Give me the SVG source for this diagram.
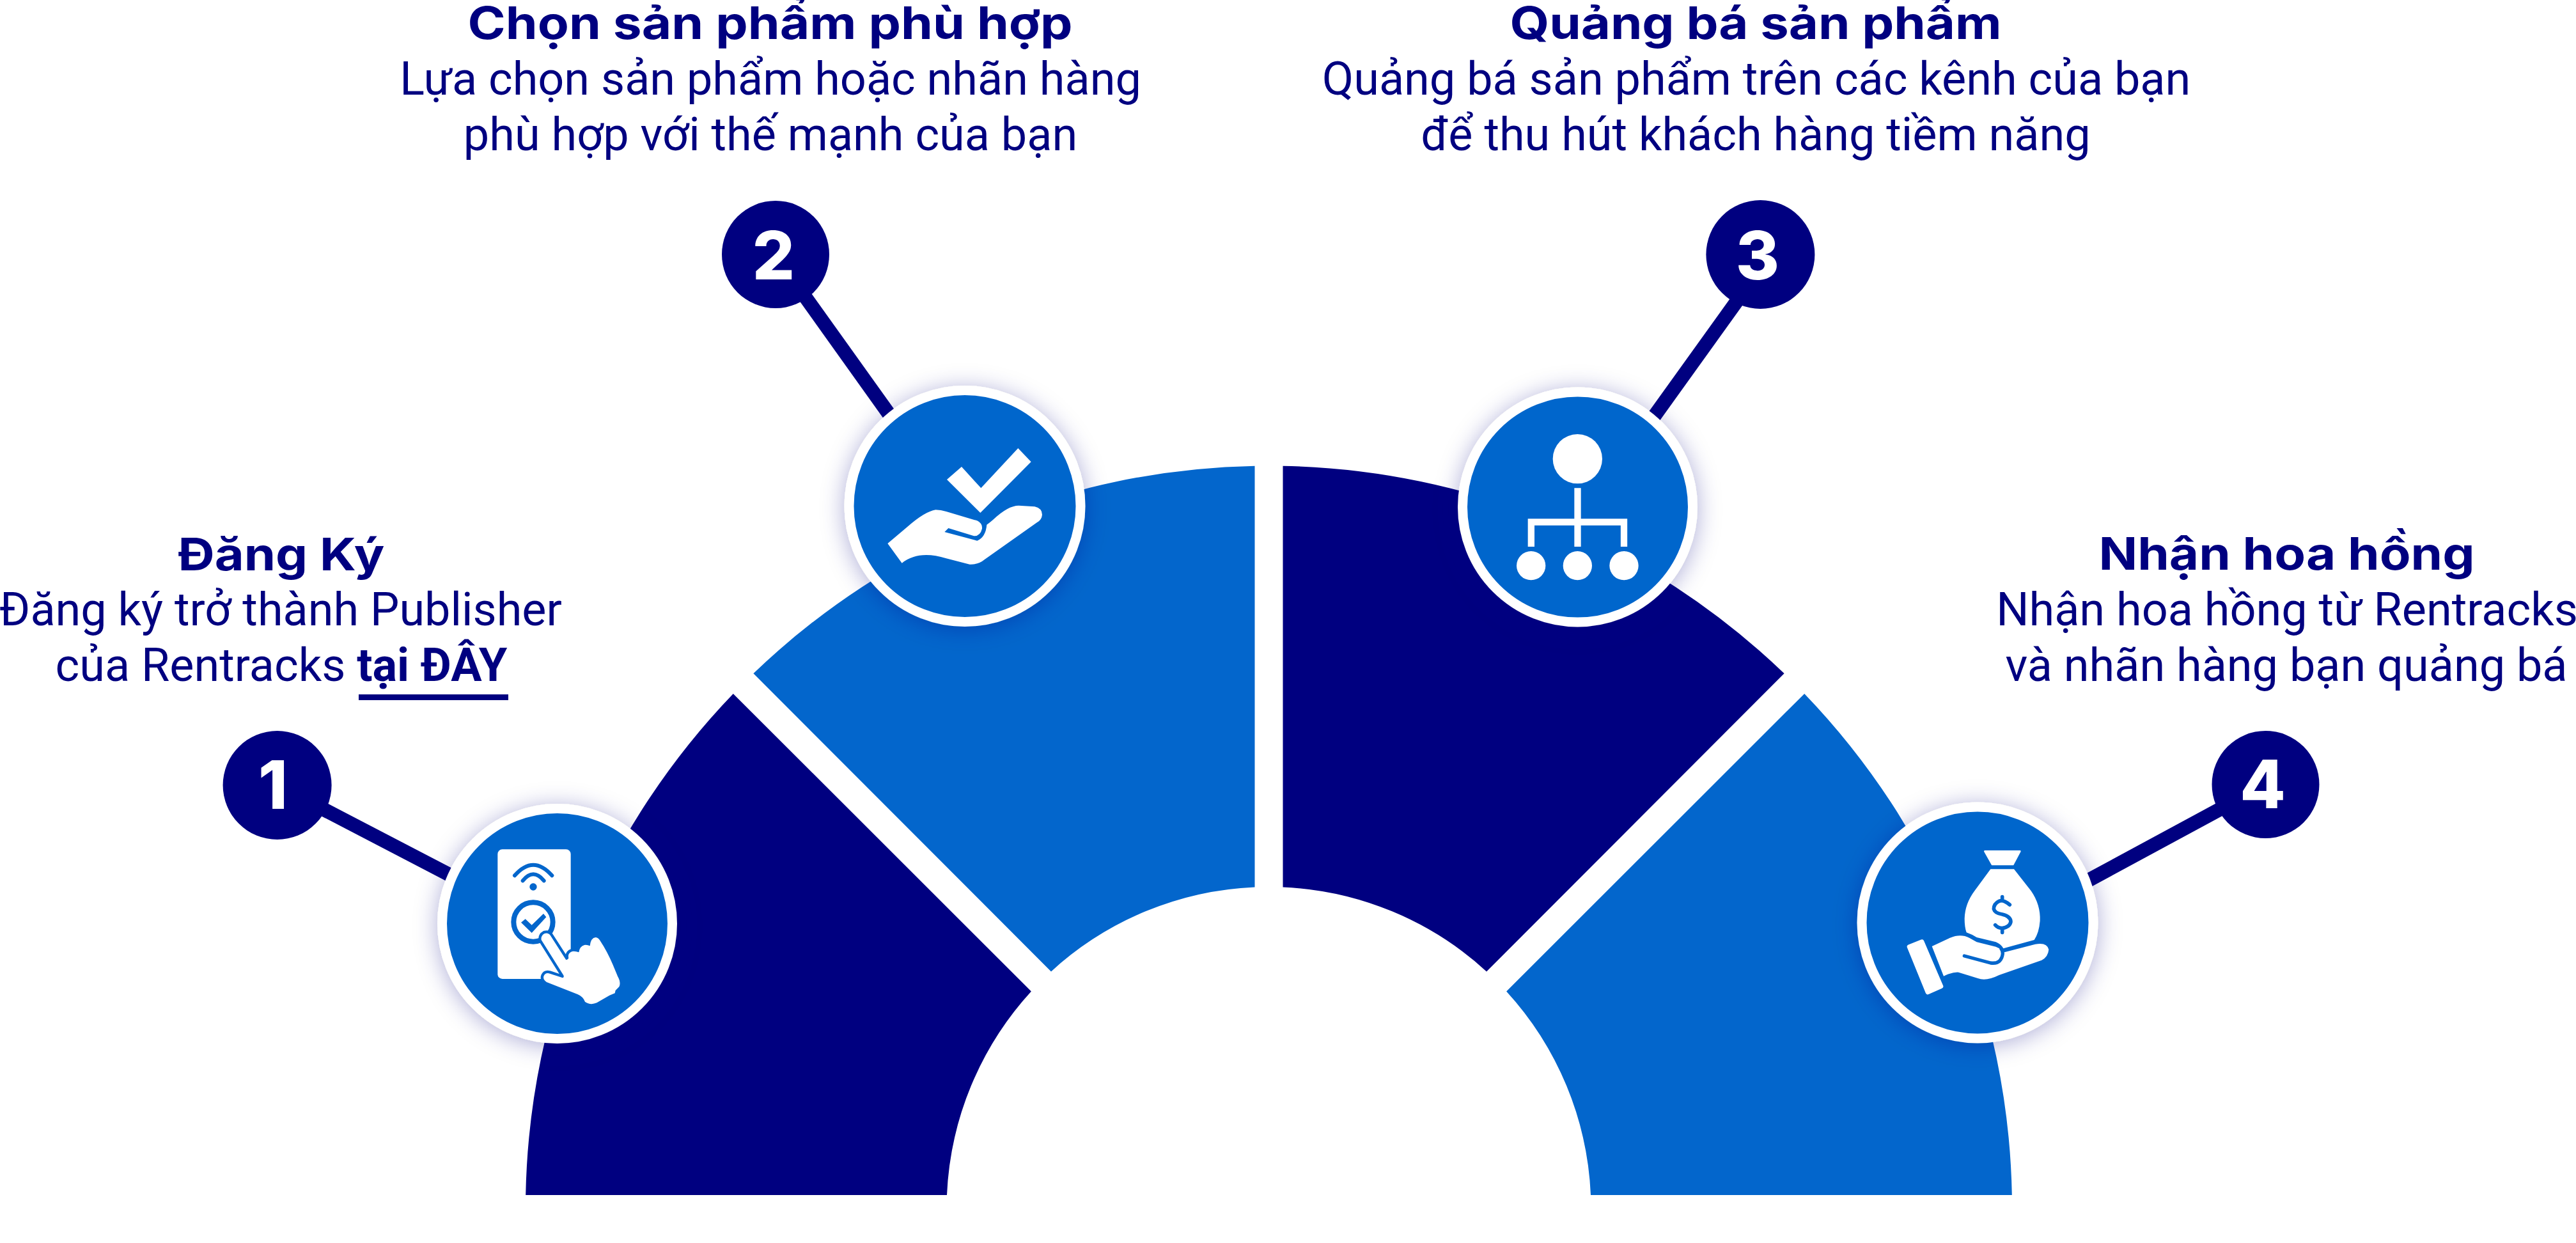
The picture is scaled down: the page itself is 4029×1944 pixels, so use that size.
<svg xmlns="http://www.w3.org/2000/svg" width="4029" height="1944" viewBox="0 0 4029 1944">
<style>
text{fill:#000080;text-anchor:middle}
.t{font:700 70px Inter,"Noto Sans",sans-serif}
.b{font:400 72px Roboto,"Noto Sans",sans-serif}
.b tspan{font-weight:700}
.n{font:800 104px Inter,"Noto Sans",sans-serif;fill:#fff}
.navy{fill:#000080}.blue{fill:#0366cc}
.ring{fill:#0366cc;stroke:#fff;stroke-width:15;filter:url(#sh)}
.ic{fill:#fff}
.cut{fill:none;stroke:#0366cc;stroke-linecap:round;stroke-linejoin:round}
.edge{stroke:#000080;stroke-width:22;fill:none}
</style>
<defs><filter id="sh" x="-30%" y="-30%" width="160%" height="160%"><feDropShadow dx="0" dy="4" stdDeviation="18" flood-color="#000080" flood-opacity=".32"/></filter></defs>
<rect width="4029" height="1944" fill="#fff"/>
<g id="sectors">
<path class="navy" d="M822.2 1869A1162.5 1162.5 0 0 1 1146.8 1084.9L1612.9 1550.5A504 504 0 0 0 1481 1869Z"/>
<path class="blue" d="M1178.4 1053.3A1162.5 1162.5 0 0 1 1962.5 728.7V1387.5A504 504 0 0 0 1644 1519.4Z"/>
<path class="navy" d="M2006.5 728.7A1162.5 1162.5 0 0 1 2790.6 1053.3L2325 1519.4A504 504 0 0 0 2006.5 1387.5Z"/>
<path class="blue" d="M2822.2 1084.9A1162.5 1162.5 0 0 1 3146.8 1869H2488A504 504 0 0 0 2356.1 1550.5Z"/>
</g>
<g id="connectors">
<path class="edge" d="M433.6 1228L720 1377"/>
<path class="edge" d="M1212 398L1400 661"/>
<path class="edge" d="M2769 398L2570 675"/>
<path class="edge" d="M3543.5 1227L3240 1391"/>
</g>
<g id="step-1">
<circle class="navy" cx="433.6" cy="1228" r="85"/>
<text class="n" x="427" y="1265">1</text>
<text class="t" x="440" y="892" textLength="323" lengthAdjust="spacingAndGlyphs">Đăng Ký</text>
<text class="b" x="439" y="978">Đăng ký trở thành Publisher</text>
<text class="b" x="440" y="1065">của Rentracks <tspan>tại ĐÂY</tspan></text>
<rect class="navy" x="561" y="1086" width="234" height="9"/>
<circle class="ring" cx="871.5" cy="1444.5" r="180"/>
<g transform="translate(680 1250) scale(.33333)">
<rect class="ic" x="295" y="235" width="343" height="608" rx="22"/>
<path class="cut" stroke-width="18" d="M375 358Q462 258 550 358M413 382Q462 322 512 382"/>
<circle class="blue" cx="462" cy="411" r="17"/>
<circle cx="462" cy="576" r="92" fill="#fff" stroke="#0366cc" stroke-width="24"/>
<path class="blue" d="M405 578L425 562L455 590L510 537L523 553L455 627Z"/>
<path class="ic" stroke="#0366cc" stroke-width="26" stroke-linejoin="round" paint-order="stroke" d="M500 660Q497 640 515 630Q533 625 543 640L615 752Q624 756 628 745Q622 722 645 714Q660 712 676 718Q680 690 702 684Q715 682 728 688Q732 650 755 648Q768 650 775 662Q810 715 835 775L858 830Q875 860 865 880L848 897L845 910L820 920L760 955Q730 968 705 950Q695 925 670 915L525 858Q505 845 512 828Q520 812 540 818L600 838Q608 836 604 826Z"/>
</g>
</g>
<g id="step-2">
<circle class="navy" cx="1213" cy="398" r="84"/>
<text class="n" x="1210" y="437">2</text>
<text class="t" x="1204.5" y="61" textLength="946" lengthAdjust="spacingAndGlyphs">Chọn sản phẩm phù hợp</text>
<text class="b" x="1205" y="148">Lựa chọn sản phẩm hoặc nhãn hàng</text>
<text class="b" x="1205" y="235">phù hợp với thế mạnh của bạn</text>
<circle class="ring" cx="1509" cy="791.5" r="181"/>
<g class="ic" transform="translate(1320 600) scale(.33333)">
<path d="M483 450L552 390L643 490L817 303L878 367L640 606Z"/>
<path d="M205 750L300 670Q380 600 430 592Q455 592 480 600L625 643Q650 655 648 680Q640 715 610 715L490 678L472 696L625 737Q665 720 670 662Q680 655 700 638Q770 572 820 572L895 577Q930 585 930 615Q928 640 905 652L660 825Q630 850 590 848L480 820Q350 780 272 842Z"/>
</g>
</g>
<g id="step-3">
<circle class="navy" cx="2753.4" cy="398" r="85"/>
<text class="n" x="2749" y="437">3</text>
<text class="t" x="2746" y="61" textLength="769" lengthAdjust="spacingAndGlyphs">Quảng bá sản phẩm</text>
<text class="b" x="2747" y="148">Quảng bá sản phẩm trên các kênh của bạn</text>
<text class="b" x="2746" y="235">để thu hút khách hàng tiềm năng</text>
<circle class="ring" cx="2467.5" cy="793" r="180"/>
<g class="ic" transform="translate(2280 600) scale(.33333)">
<circle cx="562" cy="353" r="116"/>
<circle cx="344" cy="854" r="68"/><circle cx="562" cy="854" r="68"/><circle cx="780" cy="854" r="68"/>
<path d="M562.500 490V765M344.500 765V649.500H780V765" fill="none" stroke="#fff" stroke-width="31"/>
</g>
</g>
<g id="step-4">
<circle class="navy" cx="3543.5" cy="1227" r="84"/>
<text class="n" x="3539" y="1264">4</text>
<text class="t" x="3576.500" y="891" textLength="588" lengthAdjust="spacingAndGlyphs">Nhận hoa hồng</text>
<text class="b" x="3577" y="978">Nhận hoa hồng từ Rentracks</text>
<text class="b" x="3576" y="1065">và nhãn hàng bạn quảng bá</text>
<circle class="ring" cx="3093" cy="1443" r="181"/>
<g transform="translate(2900 1250) scale(.33333)">
<path class="ic" stroke="#fff" stroke-width="8" stroke-linejoin="round" d="M613 244H778L745 306H648Z"/>
<path class="ic" d="M640 328H750L830 430Q875 495 872 570Q868 625 845 660L700 700Q690 680 665 670L575 648Q555 635 527 625Q518 600 518 560Q520 490 565 430Z"/>
<path class="cut" stroke-width="17" d="M730 495Q700 470 680 478Q655 490 655 515Q660 535 695 540Q735 550 735 575Q730 600 695 605Q675 605 662 590M695 458V475M695 608V625"/>
<path class="ic" stroke="#0366cc" stroke-width="18" stroke-linejoin="round" paint-order="stroke" d="M365 690L450 650Q500 630 540 650L575 670L665 692Q695 705 705 718L850 680Q905 670 913 705Q910 740 880 755L680 825Q620 855 580 840L490 812Q460 810 420 830Z"/>
<path class="cut" stroke-width="16" d="M517 735L640 768Q690 775 697 725Q697 710 690 702"/>
<path class="ic" stroke="#fff" stroke-width="20" stroke-linejoin="round" d="M258 692L318 668L408 878L345 906Z"/>
</g>
</g>
</svg>
